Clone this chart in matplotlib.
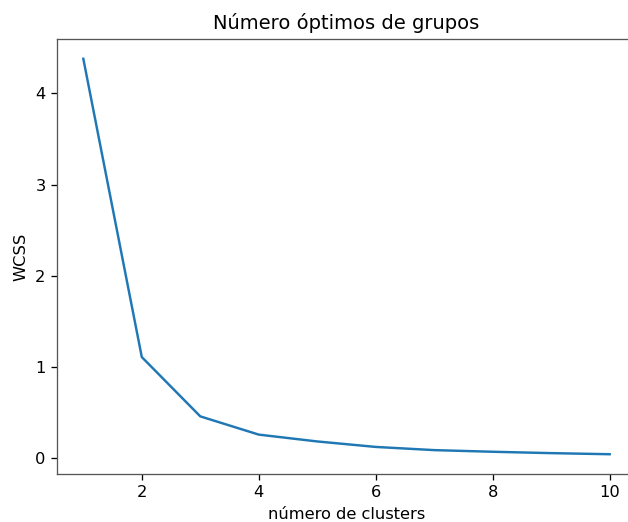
import matplotlib.pyplot as plt

# elbow curve values
clusters = [1, 2, 3, 4, 5, 6, 7, 8, 9, 10]
wcss = [4.38, 1.11, 0.46, 0.26, 0.185, 0.125, 0.09, 0.072, 0.057, 0.045]

dpi = 117
fig = plt.figure(figsize=(628 / dpi, 522 / dpi), dpi=dpi)
# axes box in pixels: left 57, right 636 (cropped off), top 39, bottom 474
ax = fig.add_axes([57 / 628, (522 - 474) / 522, (636 - 57) / 628, (474 - 39) / 522])
ax.plot(clusters, wcss)
ax.set_title('Número óptimos de grupos')
ax.set_xlabel('número de clusters')
ax.set_ylabel('WCSS')

# the reference screenshot is cut before the right spine
ax.spines['right'].set_visible(False)
for s in ['left', 'top', 'bottom']:
    ax.spines[s].set_color('#555555')

fig.savefig('out.png', dpi=dpi)
